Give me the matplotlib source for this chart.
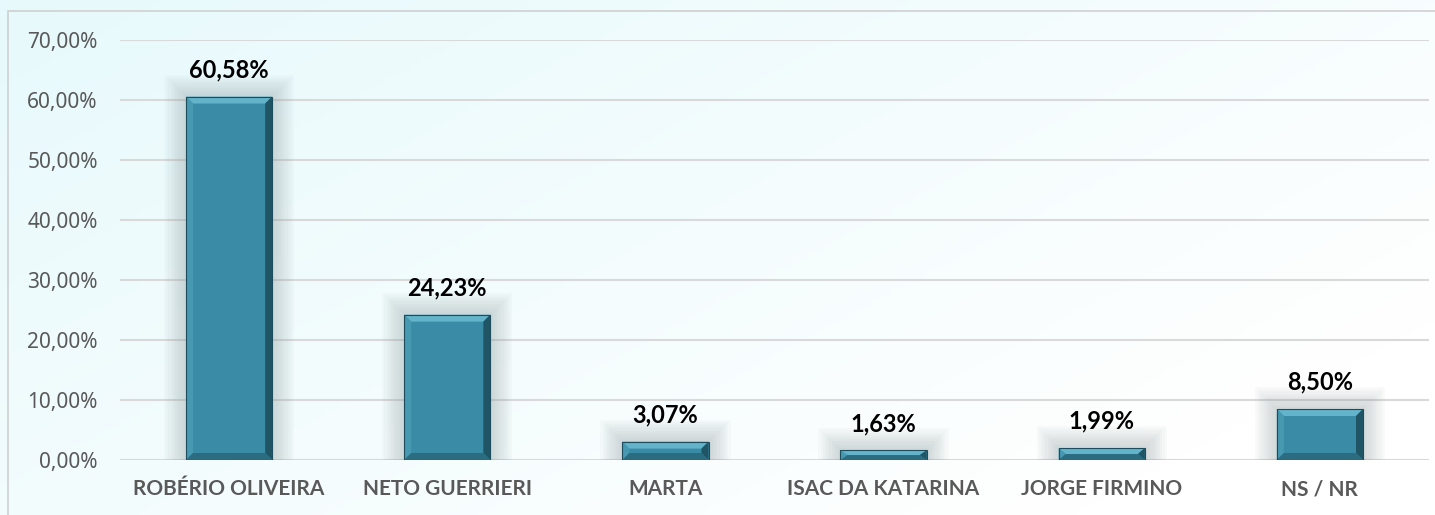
import numpy as np
import matplotlib.pyplot as plt
from matplotlib.patches import Polygon, Rectangle
from matplotlib.ticker import FuncFormatter

candidatos = ["ROBÉRIO OLIVEIRA", "NETO GUERRIERI", "MARTA", "ISAC DA KATARINA", "JORGE FIRMINO", "NS / NR"]
valores = [60.58, 24.23, 3.07, 1.63, 1.99, 8.50]
yticks = [0, 10, 20, 30, 40, 50, 60, 70]

plt.rcParams['font.family'] = ['Noto Sans', 'DejaVu Sans']
negrito = ['Lato', 'DejaVu Sans']

W, H = 1435, 515
fig = plt.figure(figsize=(W/100, H/100), dpi=100)

# fundo em degrade (ciano claro -> branco)
bg = fig.add_axes([0, 0, 1, 1], zorder=-10)
gx = np.linspace(0, 1, 300)
gy = np.linspace(0, 1, 120)
GX, GY = np.meshgrid(gx, gy)
t = np.clip(0.6*GX + 0.4*(1-GY) + 0.15, 0, 1)
c0 = np.array([0.89, 0.975, 0.985])
c1 = np.array([1.0, 1.0, 1.0])
img = c0[None, None, :]*(1-t[..., None]) + c1[None, None, :]*t[..., None]
bg.imshow(img, aspect='auto', extent=[0, 1, 0, 1], origin='lower')
bg.add_patch(Rectangle((8/W, -0.01), 1, 1-11/H+0.01, fill=False, ec='#d0d0d0', lw=1.2,
                       transform=bg.transAxes))
bg.set_xlim(0, 1)
bg.set_ylim(0, 1)
bg.axis('off')

ax = fig.add_axes([120/W, 1-460/H, (1429-120)/W, 420/H])
ax.set_facecolor('none')
x = np.arange(len(candidatos))
larg = 0.395
ax.set_xlim(-0.5, len(candidatos)-0.5)
ax.set_ylim(0, 70)

# px -> dados
px_x = (len(candidatos))/1309
px_y = 70/420

for v in yticks:
    ax.axhline(v, color='#d9d9d9', lw=1.5, zorder=0)

for xi, v in zip(x, valores):
    # sombra suave
    for k in range(10, 0, -1):
        dx = k*2.2*px_x
        dy = k*2.2*px_y
        ax.add_patch(Rectangle((xi-larg/2-dx, 0), larg+2*dx, v+dy, color='#8f9ea0',
                               alpha=0.045, lw=0, zorder=1))
    x0, x1 = xi-larg/2, xi+larg/2
    bx = 7*px_x
    by = min(7*px_y, v/2)
    ax.add_patch(Rectangle((x0, 0), larg, v, color='#3a8ba5', lw=0, zorder=2))
    # bisel
    ax.add_patch(Polygon([(x0, v), (x1, v), (x1-bx, v-by), (x0+bx, v-by)], color='#63b4ca', lw=0, zorder=3))
    ax.add_patch(Polygon([(x0, 0), (x0+bx, by), (x0+bx, v-by), (x0, v)], color='#4798b1', lw=0, zorder=3))
    ax.add_patch(Polygon([(x1, 0), (x1, v), (x1-bx, v-by), (x1-bx, by)], color='#1f5565', lw=0, zorder=3))
    ax.add_patch(Polygon([(x0, 0), (x1, 0), (x1-bx, by), (x0+bx, by)], color='#2b6c80', lw=0, zorder=3))
    ax.add_patch(Rectangle((x0, 0), larg, v, fill=False, ec='#1d4d5c', lw=0.8, zorder=4))
    ax.annotate(f"{v:.2f}%".replace('.', ','), (xi, v), xytext=(0, 11), textcoords='offset points',
                ha='center', va='bottom', fontsize=17, fontweight='bold', color='black',
                family=negrito)

ax.set_yticks(yticks)
ax.yaxis.set_major_formatter(FuncFormatter(lambda v, p: f"{v:.2f}%".replace('.', ',')))
ax.set_xticks(x)
ax.set_xticklabels(candidatos, fontsize=15, fontweight='bold', color='#595959', family=negrito)
ax.tick_params(axis='y', length=0, pad=16, labelsize=15, labelcolor='#595959')
ax.tick_params(axis='x', length=0, pad=14)
for s in ax.spines.values():
    s.set_visible(False)

fig.savefig('out.png', dpi=100)
